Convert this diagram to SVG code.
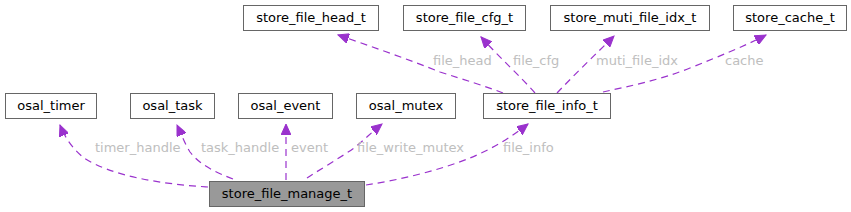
<svg xmlns="http://www.w3.org/2000/svg" width="851" height="212" viewBox="0 0 851 212">
<defs>
<style>
.n rect{fill:#ffffff;stroke:#666666;stroke-width:1}
.n.main rect{fill:#999999}
.n text{font-family:"DejaVu Sans",sans-serif;font-size:13px;fill:#000000;text-anchor:middle}
.e path{fill:none;stroke:#9a32cd;stroke-width:1.2;stroke-dasharray:7,5}
.lbl{font-family:"DejaVu Sans",sans-serif;font-size:13px;fill:#bebebe}
</style>
<marker id="ah" markerWidth="12" markerHeight="10" refX="11" refY="5" orient="auto" markerUnits="userSpaceOnUse">
<path d="M0,0 L11,5 L0,10 Z" fill="#9a32cd" stroke="#9a32cd" stroke-width="1"/>
</marker>
</defs>
<rect width="851" height="212" fill="#ffffff"/>
<g id="edges" class="e">
<path d="M208,187 C160,184 112,176 84,158 C74,150 66,140 60,125" marker-end="url(#ah)"/>
<path d="M233,179 C215,172 200,165 190,152 C186,146 182,136 177,125" marker-end="url(#ah)"/>
<path d="M286,180 L286,124" marker-end="url(#ah)"/>
<path d="M307,178 C322,168 340,158 354,148 C364,140 372,132 382,124" marker-end="url(#ah)"/>
<path d="M366,185 C400,180 440,170 470,158 C490,150 510,138 528,124" marker-end="url(#ah)"/>
<path d="M503,93 C485,86 465,80 440,72 C410,60 370,46 338,35" marker-end="url(#ah)"/>
<path d="M535,93 C520,76 500,58 481,37" marker-end="url(#ah)"/>
<path d="M557,93 C575,74 595,55 614,36" marker-end="url(#ah)"/>
<path d="M603,92 C630,86 660,80 690,68 C720,56 745,46 766,35" marker-end="url(#ah)"/>
</g>
<g id="labels">
<text class="lbl" x="95" y="152">timer_handle</text>
<text class="lbl" x="201" y="152">task_handle</text>
<text class="lbl" x="291" y="152">event</text>
<text class="lbl" x="357" y="152">file_write_mutex</text>
<text class="lbl" x="503" y="152">file_info</text>
<text class="lbl" x="433" y="65">file_head</text>
<text class="lbl" x="513" y="65">file_cfg</text>
<text class="lbl" x="596" y="65">muti_file_idx</text>
<text class="lbl" x="725" y="65">cache</text>
</g>
<g id="store_file_manage_t" class="n main"><rect x="209.5" y="181.5" width="155" height="25"/><text x="287" y="198">store_file_manage_t</text></g>
<g id="osal_timer" class="n"><rect x="5.5" y="93.5" width="91" height="25"/><text x="51" y="110">osal_timer</text></g>
<g id="osal_task" class="n"><rect x="130.5" y="93.5" width="84" height="25"/><text x="172.5" y="110">osal_task</text></g>
<g id="osal_event" class="n"><rect x="238.5" y="93.5" width="94" height="25"/><text x="285.5" y="110">osal_event</text></g>
<g id="osal_mutex" class="n"><rect x="356.5" y="93.5" width="99" height="25"/><text x="406" y="110">osal_mutex</text></g>
<g id="store_file_info_t" class="n"><rect x="483.5" y="93.5" width="127" height="25"/><text x="547" y="110">store_file_info_t</text></g>
<g id="store_file_head_t" class="n"><rect x="243.5" y="5.5" width="135" height="25"/><text x="311" y="22">store_file_head_t</text></g>
<g id="store_file_cfg_t" class="n"><rect x="403.5" y="5.5" width="122" height="25"/><text x="464.5" y="22">store_file_cfg_t</text></g>
<g id="store_muti_file_idx_t" class="n"><rect x="550.5" y="5.5" width="159" height="25"/><text x="630" y="22">store_muti_file_idx_t</text></g>
<g id="store_cache_t" class="n"><rect x="733.5" y="5.5" width="113" height="25"/><text x="790" y="22">store_cache_t</text></g>
</svg>
